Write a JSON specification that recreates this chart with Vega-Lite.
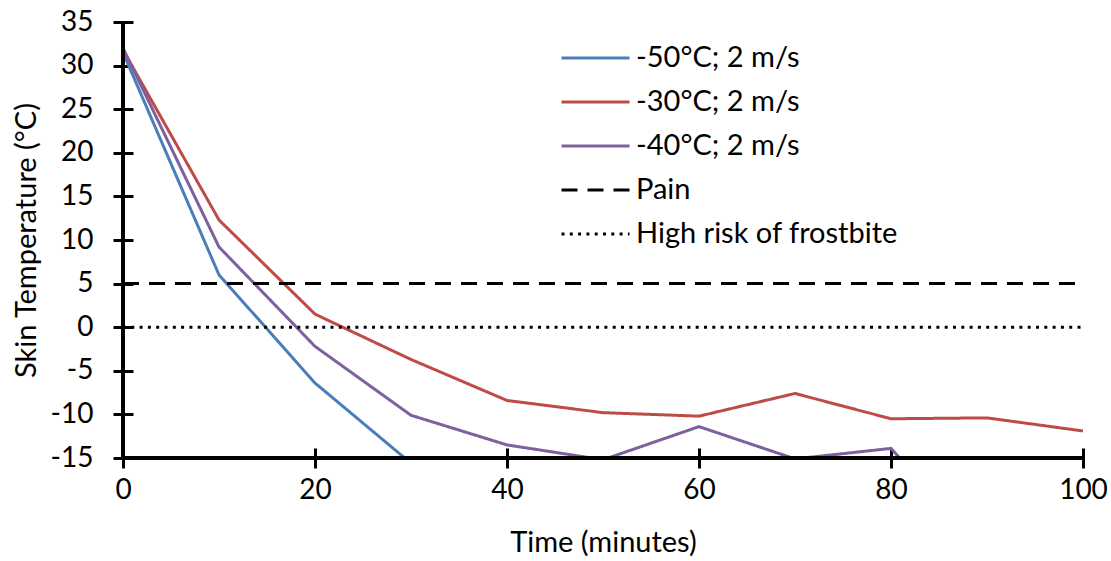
{
  "$schema": "https://vega.github.io/schema/vega-lite/v6.json",
  "autosize": "none",
  "width": 960,
  "height": 436,
  "padding": {"left": 123, "top": 22, "right": 28, "bottom": 103},
  "background": "white",
  "config": {
    "font": "Lato",
    "view": {"stroke": null},
    "axis": {
      "domain": false, "labelFlush": false, "labelOverlap": false,
      "tickColor": "black", "tickWidth": 3, "tickSize": 20, "offset": -10,
      "grid": false, "labelFont": "Lato", "labelFontSize": 28, "labelColor": "black",
      "titleFont": "Lato", "titleFontSize": 29, "titleFontWeight": "normal", "titleColor": "black"
    }
  },
  "data": {
    "values": [
      {"series": "-50°C; 2 m/s", "time": 0, "temp": 31.5},
      {"series": "-50°C; 2 m/s", "time": 10, "temp": 6.0},
      {"series": "-50°C; 2 m/s", "time": 20, "temp": -6.4},
      {"series": "-50°C; 2 m/s", "time": 30, "temp": -15.6},
      {"series": "-30°C; 2 m/s", "time": 0, "temp": 31.8},
      {"series": "-30°C; 2 m/s", "time": 10, "temp": 12.3},
      {"series": "-30°C; 2 m/s", "time": 20, "temp": 1.5},
      {"series": "-30°C; 2 m/s", "time": 30, "temp": -3.7},
      {"series": "-30°C; 2 m/s", "time": 40, "temp": -8.4},
      {"series": "-30°C; 2 m/s", "time": 50, "temp": -9.8},
      {"series": "-30°C; 2 m/s", "time": 60, "temp": -10.2},
      {"series": "-30°C; 2 m/s", "time": 70, "temp": -7.6},
      {"series": "-30°C; 2 m/s", "time": 80, "temp": -10.5},
      {"series": "-30°C; 2 m/s", "time": 90, "temp": -10.4},
      {"series": "-30°C; 2 m/s", "time": 100, "temp": -11.9},
      {"series": "-40°C; 2 m/s", "time": 0, "temp": 32.0},
      {"series": "-40°C; 2 m/s", "time": 10, "temp": 9.2},
      {"series": "-40°C; 2 m/s", "time": 20, "temp": -2.2},
      {"series": "-40°C; 2 m/s", "time": 30, "temp": -10.1},
      {"series": "-40°C; 2 m/s", "time": 40, "temp": -13.5},
      {"series": "-40°C; 2 m/s", "time": 50, "temp": -15.2},
      {"series": "-40°C; 2 m/s", "time": 60, "temp": -11.4},
      {"series": "-40°C; 2 m/s", "time": 70, "temp": -15.1},
      {"series": "-40°C; 2 m/s", "time": 80, "temp": -13.9},
      {"series": "-40°C; 2 m/s", "time": 90, "temp": -26.0},
      {"series": "Pain", "time": 0, "temp": 5},
      {"series": "Pain", "time": 100, "temp": 5},
      {"series": "High risk of frostbite", "time": 0, "temp": 0},
      {"series": "High risk of frostbite", "time": 100, "temp": 0}
    ]
  },
  "layer": [
    {
      "mark": {"type": "line", "strokeWidth": 3, "clip": true},
      "encoding": {
        "x": {
          "field": "time", "type": "quantitative",
          "scale": {"domain": [0, 100], "nice": false},
          "axis": {"values": [0, 20, 40, 60, 80, 100], "title": "Time (minutes)", "labelPadding": 8, "titlePadding": 24}
        },
        "y": {
          "field": "temp", "type": "quantitative",
          "scale": {"domain": [-15, 35], "nice": false, "zero": false},
          "axis": {"values": [-15, -10, -5, 0, 5, 10, 15, 20, 25, 30, 35], "labelExpr": "toString(datum.value)", "title": "Skin Temperature (°C)", "labelPadding": 20, "titlePadding": 9}
        },
        "color": {
          "field": "series", "type": "nominal",
          "scale": {
            "domain": ["-50°C; 2 m/s", "-30°C; 2 m/s", "-40°C; 2 m/s", "Pain", "High risk of frostbite"],
            "range": ["#4A7EBB", "#BE4B48", "#7D60A0", "#000000", "#000000"]
          },
          "legend": {
            "orient": "none", "legendX": 437, "legendY": 14, "title": null,
            "symbolType": "stroke", "symbolSize": 4624, "symbolStrokeWidth": 3,
            "labelFontSize": 29, "labelColor": "black", "labelLimit": 400, "labelOffset": 5,
            "clipHeight": 44, "rowPadding": 0
          }
        },
        "strokeDash": {
          "field": "series", "type": "nominal",
          "scale": {
            "domain": ["-50°C; 2 m/s", "-30°C; 2 m/s", "-40°C; 2 m/s", "Pain", "High risk of frostbite"],
            "range": [[1, 0], [1, 0], [1, 0], [16, 10], [3, 5.3]]
          },
          "legend": {
            "orient": "none", "legendX": 437, "legendY": 14, "title": null,
            "symbolType": "stroke", "symbolSize": 4624, "symbolStrokeWidth": 3,
            "labelFontSize": 29, "labelColor": "black", "labelLimit": 400, "labelOffset": 5,
            "clipHeight": 44, "rowPadding": 0
          }
        }
      }
    },
    {
      "mark": {"type": "rule", "color": "black", "strokeWidth": 3},
      "encoding": {"y": {"datum": -15}}
    },
    {
      "mark": {"type": "rule", "color": "black", "strokeWidth": 3},
      "encoding": {"x": {"datum": 0}}
    }
  ]
}
